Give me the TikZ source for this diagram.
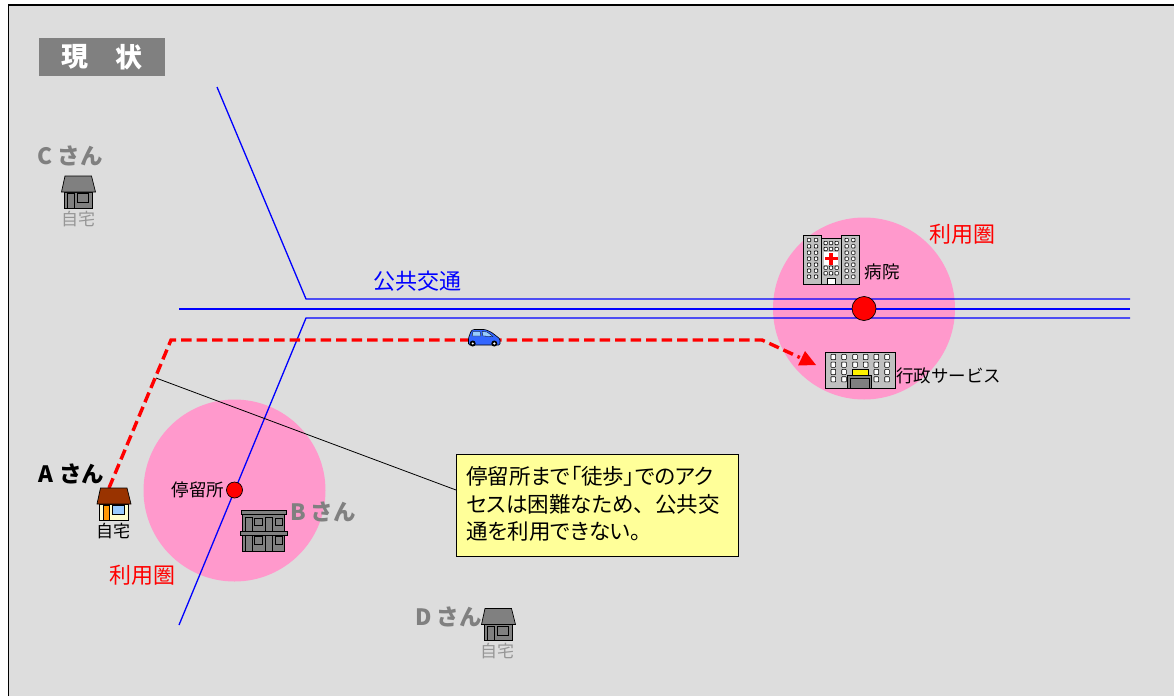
\documentclass[tikz,border=0pt]{standalone}
\usepackage{fontspec}
\setmainfont{Noto Sans CJK JP}
\newfontfamily\palt[RawFeature={+palt}]{Noto Sans CJK JP}
\usetikzlibrary{arrows.meta,calc}
\definecolor{bgc}{HTML}{DDDDDD}
\definecolor{pinkc}{HTML}{FF99CC}
\definecolor{gr}{HTML}{808080}
\definecolor{lgr}{HTML}{969696}
\definecolor{blu}{HTML}{0000FF}
\definecolor{rd}{HTML}{FF0000}
\definecolor{brn}{HTML}{993300}
\definecolor{cre}{HTML}{FFFFCC}
\definecolor{org}{HTML}{FF9900}
\definecolor{skyb}{HTML}{99CCFF}
\definecolor{yel}{HTML}{FFFF99}
\definecolor{bgray}{HTML}{C0C0C0}
\definecolor{carb}{HTML}{3366FF}
\tikzset{
  road/.style={blu,line width=1.3pt},
  area/.style={circle,fill=pinkc,draw=none,inner sep=0pt},
  stopdot/.style={circle,fill=rd,draw=black,line width=.7pt,inner sep=0pt},
  lbl/.style={inner sep=0pt,font=\fontsize{#1}{#1}\selectfont},
  lbl/.default=17,
  person/.style={inner sep=0pt,font=\fontsize{22.5}{22.5}\selectfont\bfseries},
  notetext/.style={inner sep=0pt,anchor=west,font=\palt\fontsize{21.5}{21.5}\selectfont},
  access/.style={rd,line width=3.4pt,dash pattern=on 10.5pt off 5pt},
  icon/.style={draw=black,line width=.7pt},
  win/.style={fill=white,draw=black,line width=.6pt,rounded corners=.6pt},
}
\newcommand{\HouseAt}[6]{%
  \begin{scope}[shift={(#1,#2)}]
    \draw[icon,fill=#4] (2.5,16) rectangle (31,32);
    \draw[icon,fill=#5] (6,17.5) rectangle (12.5,32);
    \draw[icon,fill=#6] (15.5,17.5) rectangle (27,26.5);
    \draw[icon,fill=#3] (3.5,0) -- (30,0) -- (34,16) -- (0,16) -- cycle;
  \end{scope}}
\begin{document}
\begin{tikzpicture}[x=1pt,y=-1pt]
\useasboundingbox (0,0) rectangle (1174,696);
\fill[white] (0,0) rectangle (1174,696);
\fill[bgc] (8.5,5) rectangle (1174,696);
\draw[black,line width=1.3pt] (8.5,696) -- (8.5,5) -- (1174,5);

% title
\node[fill=gr,minimum width=126pt,minimum height=38pt,inner sep=0pt] (title) at (102,57) {};
\node[inner sep=0pt,text=white,font=\fontsize{27}{27}\selectfont\bfseries] (titleA) at (75,57) {現};
\node[inner sep=0pt,text=white,font=\fontsize{27}{27}\selectfont\bfseries] (titleB) at (129,57) {状};

% catchment areas
\node[area,minimum size=182pt] (areaB) at (234.5,490.5) {};
\node[area,minimum size=182pt] (areaR) at (864,308.5) {};

% roads
\coordinate (n1) at (217,87);
\coordinate (n1b) at (306,299);
\coordinate (n1e) at (1130,299);
\coordinate (n2) at (179,309);
\coordinate (n2e) at (1130,309);
\coordinate (n3) at (179,625);
\coordinate (n3b) at (306,318);
\coordinate (n3e) at (1130,318);
\draw[road] (n1) -- (n1b) -- (n1e);
\draw[road] (n2) -- (n2e);
\draw[road] (n3) -- (n3b) -- (n3e);

% stops
\node[stopdot,minimum size=16pt] (stopB) at (234.5,490) {};
\node[stopdot,minimum size=24pt] (stopR) at (864,308.5) {};

% leader + callout
\coordinate (leadA) at (156,378);
\node[draw=black,fill=yel,line width=.7pt,minimum width=282pt,minimum height=102pt,inner sep=0pt] (note) at (597,505) {};
\coordinate (leadB) at (456,490);
\draw[black,line width=.8pt] (leadA) -- (leadB);
\node[notetext] (noteA) at (466,476) {停留所まで「徒歩」でのアク};
\node[notetext] (noteB) at (466,504) {セスは困難なため{\rmfamily 、}公共交};
\node[notetext] (noteC) at (466,531) {通を利用できない。};

% walking-access route
\coordinate (homeA) at (109,488);
\coordinate (bendA) at (171,340);
\coordinate (bendB) at (762,340);
\coordinate (govIn) at (816,365);
\draw[access] (homeA) -- (bendA) -- (bendB) -- ($(bendB)!0.7!(govIn)$);
\fill[rd] (govIn) -- (798,365.5) -- (805,351) -- cycle;

% car
\begin{scope}
  \fill[carb,draw=black,line width=.6pt,rounded corners=1.2pt] (468.5,345) -- (468.5,338) -- (471,331) -- (473,329.5) -- (485,329.5) -- (491,332) -- (497,336.5) -- (500,339) -- (500,345) -- cycle;
  \fill[skyb,draw=black,line width=.3pt] (473,331.5) -- (480,331.5) -- (481,336) -- (472,336) -- cycle;
  \fill[skyb,draw=black,line width=.3pt] (482,331.5) -- (487,332) -- (493,336.5) -- (483,336) -- cycle;
  \fill[black] (472.7,343.5) circle (3pt);
  \fill[black] (494.3,343.5) circle (3pt);
  \fill[white] (472.7,343.5) circle (1.2pt);
  \fill[white] (494.3,343.5) circle (1.2pt);
\end{scope}

% houses
\HouseAt{97}{488}{brn}{cre}{org}{skyb}
\HouseAt{61.5}{176}{gr}{gr}{gr}{gr}
\HouseAt{481.5}{608.5}{gr}{gr}{gr}{gr}

% apartment
\draw[icon,fill=gr] (242.7,514) rectangle (284.3,551);
\foreach \yy/\yb in {517.3/531.7,535/551}{
  \draw[icon,fill=gr] (245.7,\yy) rectangle (252.3,\yb);
  \draw[icon,fill=gr] (265.7,\yy) rectangle (272.3,\yb);
}
\foreach \yy in {518.3,536.7}{
  \draw[icon,fill=gr] (254.7,\yy) rectangle (262.3,\yy+7.4);
  \draw[icon,fill=gr] (275,\yy) rectangle (282.7,\yy+7.4);
}
\draw[icon,fill=gr] (241,510.7) rectangle (286,514.7);
\draw[icon,fill=gr] (240,531.7) rectangle (287.3,535);

% hospital
\draw[icon,fill=bgray] (803.5,235.5) rectangle (821.7,284.5);
\draw[icon,fill=bgray] (841.3,235.5) rectangle (859,284.5);
\draw[icon,fill=bgray] (821.7,238.5) rectangle (841.3,284.5);
\foreach \yy in {240,246.3,252.7,258.7,264.7,270.7,276.7}{
  \foreach \xx in {809,816,846.7,853.3}{
    \draw[win] (\xx-1.7,\yy-1.7) rectangle (\xx+1.7,\yy+1.7);
  }
}
\foreach \yy in {243,249,267.7,273.3}{
  \foreach \xx in {825.7,831,836.7}{
    \draw[win] (\xx-1.7,\yy-1.7) rectangle (\xx+1.7,\yy+1.7);
  }
}
\fill[white] (824,252.3) rectangle (838.3,265);
\fill[rd] (829.4,252.7) rectangle (832.6,264.7);
\fill[rd] (824.7,257.1) rectangle (837.7,260.3);
\draw[fill=white,draw=black,line width=.5pt] (827.3,278.3) rectangle (835.7,284.5);

% government building
\draw[icon,fill=bgray] (825,352) rectangle (895.7,388.3);
\foreach \xx in {833.3,844,855,865.7,876.3,887}{
  \foreach \yy in {357,364.7}{
    \draw[win] (\xx-2.3,\yy-2.6) rectangle (\xx+2.3,\yy+2.6);
  }
}
\foreach \xx in {833.3,844,876.3,887}{
  \foreach \yy in {372,379.3}{
    \draw[win] (\xx-2.3,\yy-2.6) rectangle (\xx+2.3,\yy+2.6);
  }
}
\draw[draw=black,fill=yellow,line width=.5pt] (852.3,369.3) rectangle (868.3,375.7);
\draw[draw=black,fill=gr,line width=.5pt] (847.3,375.7) rectangle (871.7,388.3);
\draw[draw=black,fill=gr,line width=.5pt] (850,378) rectangle (869,388.3);

% labels
\node[person,text=gr] (cSan) at (70,156) {C さん};
\node[person,text=black] (aSan) at (71.5,474) {A さん};
\node[person,text=gr] (bSan) at (323,512) {B さん};
\node[person,text=gr] (dSan) at (448.5,617) {D さん};
\node[lbl=17,text=lgr] (homeC) at (78,219) {自宅};
\node[lbl=17,text=black] (homeAl) at (113,531) {自宅};
\node[lbl=17,text=lgr] (homeD) at (497,651) {自宅};
\node[lbl=17.5] (stopL) at (198,490) {停留所};
\node[lbl=22,text=rd] (useA) at (142,575) {利用圏};
\node[lbl=22,text=rd] (useB) at (962,234) {利用圏};
\node[lbl=22,text=blu] (pt) at (417.5,281) {公共交通};
\node[lbl=17.5] (hosp) at (882,272) {病院};
\node[lbl=17.5] (gov) at (948.5,376) {行政サービス};
\end{tikzpicture}
\end{document}
